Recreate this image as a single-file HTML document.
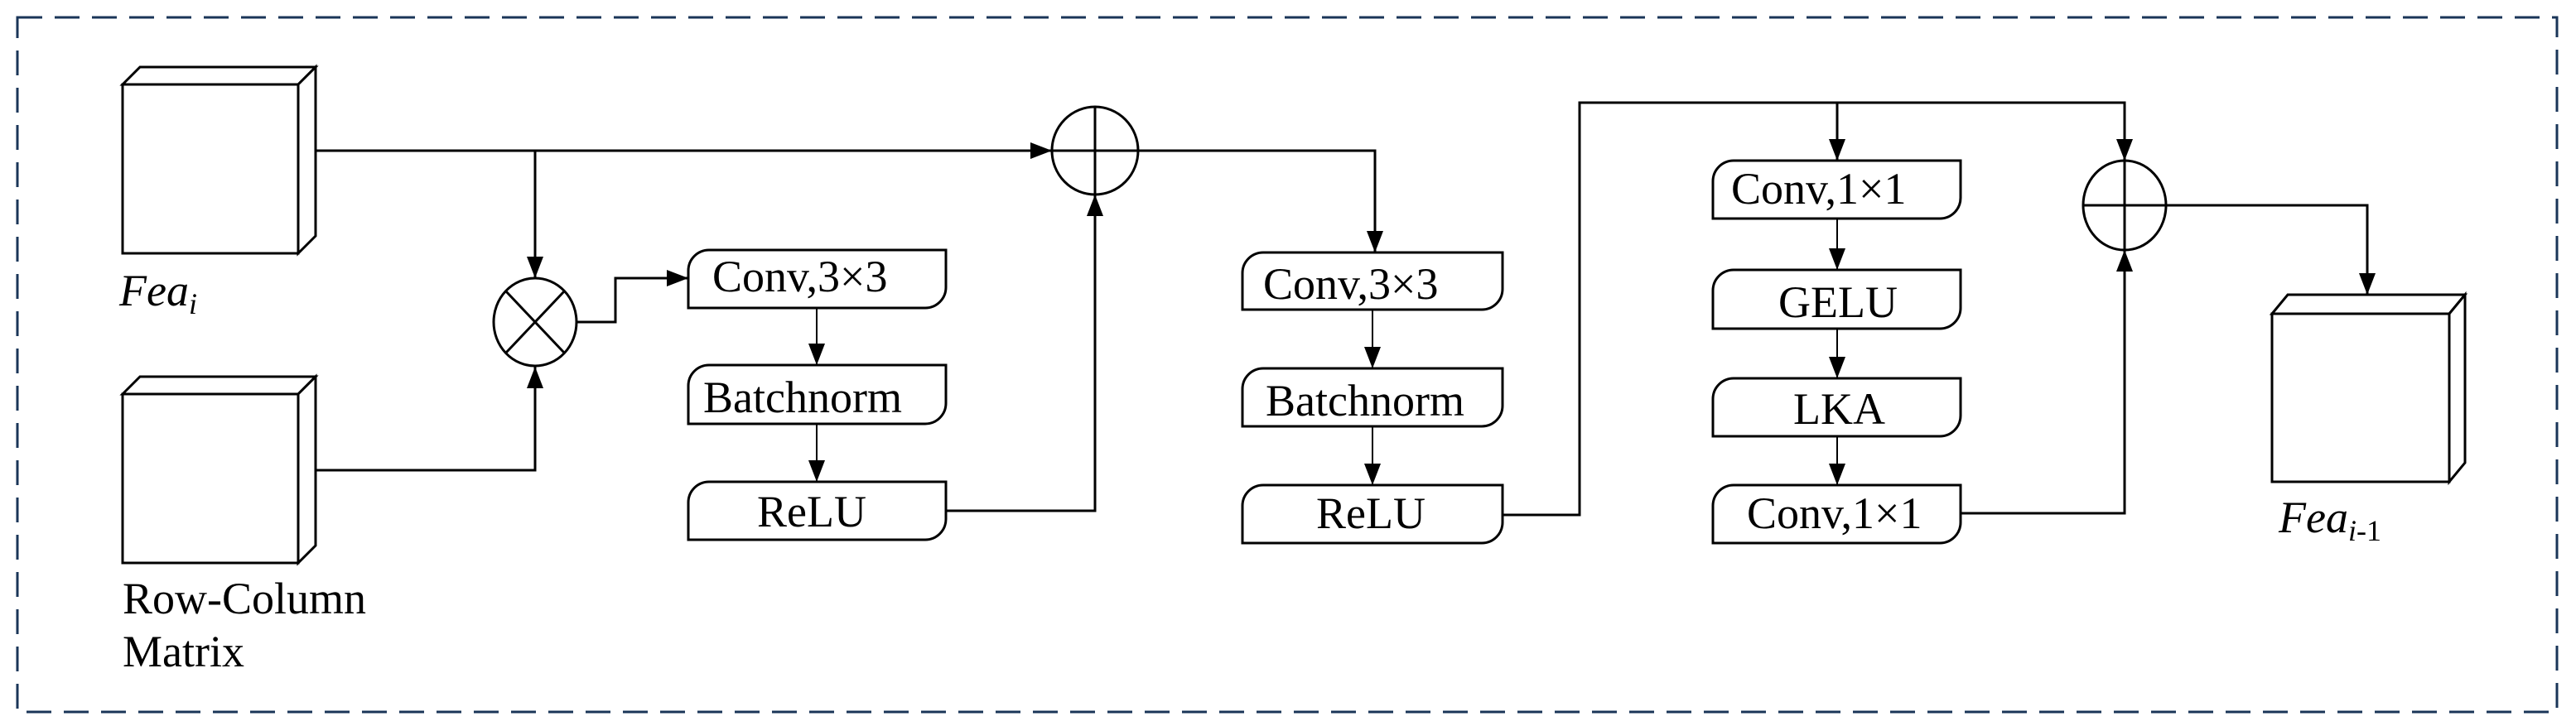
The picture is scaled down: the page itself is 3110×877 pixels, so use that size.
<!DOCTYPE html>
<html><head><meta charset="utf-8"><style>html,body{margin:0;padding:0;background:#fff}svg{display:block}</style></head>
<body>
<svg width="3110" height="877" viewBox="0 0 3110 877" xmlns="http://www.w3.org/2000/svg">
<defs>
<marker id="a" markerUnits="userSpaceOnUse" markerWidth="28" markerHeight="22" refX="26" refY="10" orient="auto">
<path d="M0,0 L26,10 L0,20 Z" fill="#000"/>
</marker>
</defs>
<rect x="0" y="0" width="3110" height="877" fill="#fff"/>
<rect x="21" y="21" width="3066" height="839" fill="none" stroke="#1a3558" stroke-width="3" stroke-dasharray="30 15"/>

<g fill="#fff" stroke="#000" stroke-width="3" stroke-linejoin="miter">
<!-- cubes -->
<rect x="148" y="102" width="212" height="204"/>
<path d="M148,102 L169,81 L381,81 L360,102 Z"/>
<path d="M360,102 L381,81 L381,285 L360,306 Z"/>
<rect x="148" y="476" width="212" height="204"/>
<path d="M148,476 L169,455 L381,455 L360,476 Z"/>
<path d="M360,476 L381,455 L381,659 L360,680 Z"/>
<rect x="2743" y="379" width="214" height="203"/>
<path d="M2743,379 L2762,356 L2976,356 L2957,379 Z"/>
<path d="M2957,379 L2976,356 L2976,559 L2957,582 Z"/>

<!-- boxes -->
<path d="M831,372 V327 A25,25 0 0 1 856,302 H1142 V347 A25,25 0 0 1 1117,372 Z"/>
<path d="M831,512 V466 A25,25 0 0 1 856,441 H1142 V487 A25,25 0 0 1 1117,512 Z"/>
<path d="M831,652 V607 A25,25 0 0 1 856,582 H1142 V627 A25,25 0 0 1 1117,652 Z"/>
<path d="M1500,374 V330 A25,25 0 0 1 1525,305 H1814 V349 A25,25 0 0 1 1789,374 Z"/>
<path d="M1500,515 V470 A25,25 0 0 1 1525,445 H1814 V490 A25,25 0 0 1 1789,515 Z"/>
<path d="M1500,656 V611 A25,25 0 0 1 1525,586 H1814 V631 A25,25 0 0 1 1789,656 Z"/>
<path d="M2068,264 V219 A25,25 0 0 1 2093,194 H2367 V239 A25,25 0 0 1 2342,264 Z"/>
<path d="M2068,397 V351 A25,25 0 0 1 2093,326 H2367 V372 A25,25 0 0 1 2342,397 Z"/>
<path d="M2068,527 V482 A25,25 0 0 1 2093,457 H2367 V502 A25,25 0 0 1 2342,527 Z"/>
<path d="M2068,656 V611 A25,25 0 0 1 2093,586 H2367 V631 A25,25 0 0 1 2342,656 Z"/>

<!-- circles -->
<ellipse cx="646" cy="389" rx="50" ry="53"/>
<line x1="611" y1="352" x2="681" y2="426"/>
<line x1="681" y1="352" x2="611" y2="426"/>
<ellipse cx="1322" cy="182" rx="52" ry="53"/>
<line x1="1270" y1="182" x2="1374" y2="182"/>
<line x1="1322" y1="129" x2="1322" y2="235"/>
<ellipse cx="2565" cy="248" rx="50" ry="54"/>
<line x1="2515" y1="248" x2="2615" y2="248"/>
<line x1="2565" y1="194" x2="2565" y2="302"/>
</g>

<g fill="none" stroke="#000" stroke-width="3">
<path d="M381,182 H1270" marker-end="url(#a)"/>
<path d="M646,182 V336" marker-end="url(#a)"/>
<path d="M381,568 H646 V443" marker-end="url(#a)"/>
<path d="M696,389 H743 V336 H831" marker-end="url(#a)"/>
<path d="M986,372 V441" marker-end="url(#a)" stroke-width="2"/>
<path d="M986,512 V582" marker-end="url(#a)" stroke-width="2"/>
<path d="M1142,617 H1322 V235" marker-end="url(#a)"/>
<path d="M1374,182 H1660 V305" marker-end="url(#a)"/>
<path d="M1657,374 V445" marker-end="url(#a)" stroke-width="2"/>
<path d="M1657,515 V586" marker-end="url(#a)" stroke-width="2"/>
<path d="M1814,622 H1907 V124 H2565 V194" marker-end="url(#a)"/>
<path d="M2218,124 V194" marker-end="url(#a)"/>
<path d="M2218,264 V326" marker-end="url(#a)" stroke-width="2"/>
<path d="M2218,397 V457" marker-end="url(#a)" stroke-width="2"/>
<path d="M2218,527 V586" marker-end="url(#a)" stroke-width="2"/>
<path d="M2367,620 H2565 V302" marker-end="url(#a)"/>
<path d="M2615,248 H2858 V356" marker-end="url(#a)"/>
</g>

<g font-family="'Liberation Serif', serif" font-size="54" fill="#000">
<text x="860" y="352">Conv,3×3</text>
<text x="849" y="498">Batchnorm</text>
<text x="914" y="636">ReLU</text>
<text x="1525" y="361">Conv,3×3</text>
<text x="1528" y="502">Batchnorm</text>
<text x="1589" y="638">ReLU</text>
<text x="2090" y="246">Conv,1×1</text>
<text x="2147" y="383">GELU</text>
<text x="2165" y="512">LKA</text>
<text x="2109" y="638">Conv,1×1</text>
<text x="148" y="741">Row-Column</text>
<text x="148" y="805">Matrix</text>
<text x="144" y="369" font-style="italic">Fea<tspan font-size="36" dy="10">i</tspan></text>
<text x="2751" y="643" font-style="italic">Fea<tspan font-size="36" dy="10">i</tspan><tspan font-size="36" font-style="normal">-1</tspan></text>
</g>
</svg>
</body></html>
